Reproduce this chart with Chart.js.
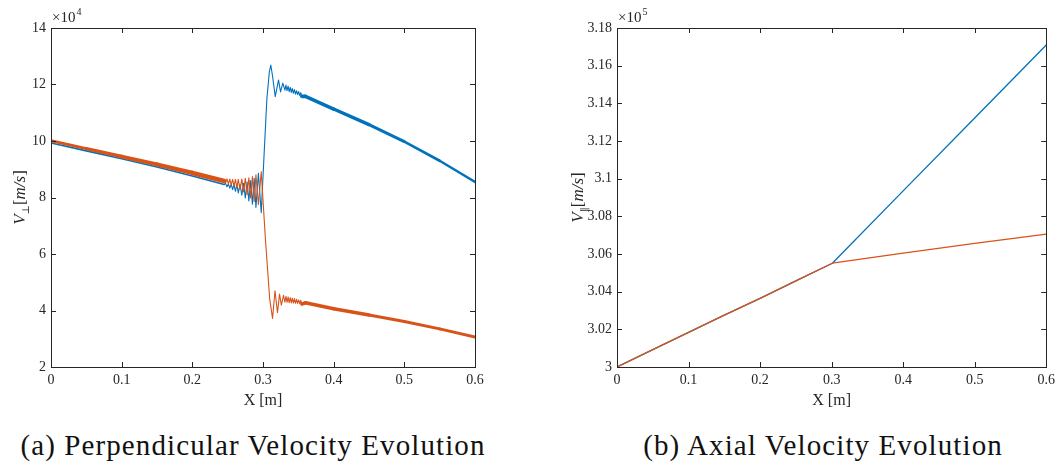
<!DOCTYPE html>
<html>
<head>
<meta charset="utf-8">
<script src="https://cdn.jsdelivr.net/npm/chart.js@4.4.1/dist/chart.umd.min.js"></script>
<style>
  html, body { margin: 0; padding: 0; background: #fff; }
  body { width: 1060px; height: 462px; position: relative; overflow: hidden; }
  .caixa { position: absolute; top: 0; width: 530px; height: 410px; }
  .legenda { position: absolute; top: 431px; font-family: "Liberation Serif", "Times New Roman", serif; font-size: 29px; line-height: 29px; letter-spacing: 1.1px; color: #111; white-space: nowrap; transform: translateX(-50%); }
</style>
</head>
<body>
<div class="caixa" style="left:0"><canvas id="graficoPerp"></canvas></div>
<div class="caixa" style="left:530px"><canvas id="graficoAxial"></canvas></div>
<div class="legenda" style="left:253px">(a) Perpendicular Velocity Evolution</div>
<div class="legenda" style="left:823px">(b) Axial Velocity Evolution</div>
<script>
// Eixos
const ticksX = [0, 0.1, 0.2, 0.3, 0.4, 0.5, 0.6];
const rotulosX = ['0', '0.1', '0.2', '0.3', '0.4', '0.5', '0.6'];
const ticksPerp = [2, 4, 6, 8, 10, 12, 14];
const rotulosPerp = ['2', '4', '6', '8', '10', '12', '14'];
const ticksAxial = [3, 3.02, 3.04, 3.06, 3.08, 3.1, 3.12, 3.14, 3.16, 3.18];
const rotulosAxial = ['3', '3.02', '3.04', '3.06', '3.08', '3.1', '3.12', '3.14', '3.16', '3.18'];

// Velocidade perpendicular (x10^4 m/s) - serie azul
const xPerpAzul = [0, 0.05, 0.1, 0.15, 0.2, 0.245,
  0.247, 0.249, 0.251, 0.253, 0.255, 0.257, 0.259, 0.261, 0.263, 0.265, 0.2675, 0.27, 0.2725, 0.275,
  0.2775, 0.28, 0.2825, 0.285, 0.2875, 0.29, 0.2935, 0.2975,
  0.3015, 0.3055, 0.309, 0.311, 0.3135, 0.3173, 0.322, 0.3248, 0.328, 0.331,
  0.3325, 0.334, 0.3355, 0.337, 0.3385, 0.34, 0.3415, 0.343, 0.3445, 0.346,
  0.3475, 0.349, 0.3505, 0.352, 0.3535, 0.355,
  0.36, 0.4, 0.45, 0.5, 0.55, 0.6];
const vPerpAzul = [9.93, 9.65, 9.37, 9.08, 8.76, 8.46,
  8.50, 8.38, 8.48, 8.33, 8.47, 8.28, 8.46, 8.22, 8.46, 8.16, 8.47, 8.08, 8.50, 7.98,
  8.55, 7.88, 8.60, 7.76, 8.68, 7.65, 8.86, 7.46,
  9.50, 11.50, 12.45, 12.69, 12.30, 11.57, 12.16, 11.74, 12.05, 11.80,
  11.98, 11.78, 11.94, 11.745, 11.90, 11.72, 11.86, 11.69, 11.82, 11.66,
  11.78, 11.64, 11.75, 11.61, 11.71, 11.58,
  11.58, 11.13, 10.58, 9.98, 9.30, 8.55];

// Velocidade perpendicular (x10^4 m/s) - serie laranja
const xPerpLaranja = [0, 0.05, 0.1, 0.15, 0.2, 0.245,
  0.247, 0.249, 0.251, 0.253, 0.255, 0.257, 0.259, 0.261, 0.263, 0.265, 0.2675, 0.27, 0.2725, 0.275,
  0.2775, 0.28, 0.2825, 0.285, 0.2875, 0.29, 0.2935, 0.2975,
  0.3035, 0.3095, 0.3135, 0.317, 0.3205, 0.3234, 0.326, 0.329, 0.331,
  0.3325, 0.334, 0.3355, 0.337, 0.3385, 0.34, 0.3415, 0.343, 0.3445, 0.346,
  0.3475, 0.349, 0.3505, 0.352, 0.3535, 0.355,
  0.36, 0.4, 0.45, 0.5, 0.55, 0.6];
const vPerpLaranja = [10.01, 9.73, 9.45, 9.17, 8.87, 8.58,
  8.52, 8.66, 8.48, 8.65, 8.44, 8.64, 8.40, 8.64, 8.35, 8.64, 8.28, 8.65, 8.20, 8.68,
  8.10, 8.70, 7.98, 8.74, 7.85, 8.80, 7.75, 8.91,
  6.50, 4.40, 3.72, 4.70, 3.92, 4.58, 4.19, 4.54, 4.30,
  4.50, 4.29, 4.48, 4.275, 4.455, 4.27, 4.435, 4.265, 4.42, 4.255,
  4.395, 4.25, 4.375, 4.24, 4.36, 4.23,
  4.27, 4.06, 3.84, 3.61, 3.35, 3.06];

// Velocidade axial (x10^5 m/s)
const xAxial = [0, 0.05, 0.1, 0.15, 0.2, 0.25, 0.301, 0.4, 0.5, 0.6];
const vAxialAzul = [3.0, 3.0092, 3.0184, 3.0275, 3.0364, 3.0457, 3.0551, 3.0935, 3.1322, 3.171];
const vAxialLaranja = [3.0, 3.0092, 3.0184, 3.0275, 3.0364, 3.0457, 3.0551, 3.0605, 3.0656, 3.0706];

const AZUL = '#0072BD';
const LARANJA = '#D95319';
const COR_EIXO = '#262626';
const FONTE = '"Liberation Serif", "Times New Roman", serif';

function pontos(xs, ys) {
  return xs.map((x, i) => ({ x: x, y: ys[i] }));
}

function larguraAzul(x) {
  if (x < 0.245) return 1.6;
  if (x < 0.355) return 1.1;
  return 3.6 - 1.6 * (x - 0.355) / 0.245;
}

function larguraLaranja(x) {
  if (x < 0.245) return 3 + 2 * x / 0.245;
  if (x < 0.355) return 1.1;
  return 3.6 - 1.0 * (x - 0.355) / 0.245;
}

// Moldura, marcas internas, titulos e expoente
const molduraEixos = {
  id: 'molduraEixos',
  afterDraw(chart, args, opts) {
    const ctx = chart.ctx;
    const a = chart.chartArea;
    const sx = chart.scales.x;
    const sy = chart.scales.y;
    ctx.save();
    ctx.strokeStyle = COR_EIXO;
    ctx.lineWidth = 1;
    ctx.strokeRect(Math.round(a.left) + 0.5, Math.round(a.top) + 0.5,
      Math.round(a.right - a.left), Math.round(a.bottom - a.top));
    ctx.beginPath();
    opts.ticksX.forEach(v => {
      const p = Math.round(sx.getPixelForValue(v)) + 0.5;
      ctx.moveTo(p, a.bottom); ctx.lineTo(p, a.bottom - 5);
      ctx.moveTo(p, a.top); ctx.lineTo(p, a.top + 5);
    });
    opts.ticksY.forEach(v => {
      const p = Math.round(sy.getPixelForValue(v)) + 0.5;
      ctx.moveTo(a.left, p); ctx.lineTo(a.left + 5, p);
      ctx.moveTo(a.right, p); ctx.lineTo(a.right - 5, p);
    });
    ctx.stroke();

    // expoente
    ctx.fillStyle = COR_EIXO;
    ctx.textBaseline = 'alphabetic';
    ctx.textAlign = 'left';
    ctx.font = '15px ' + FONTE;
    const base = '\u00d710';
    ctx.fillText(base, a.left + 1, a.top - 6);
    const w = ctx.measureText(base).width;
    ctx.font = '10px ' + FONTE;
    ctx.fillText(opts.expoente, a.left + 1 + w + 1, a.top - 13);

    // titulo X
    ctx.font = '16px ' + FONTE;
    ctx.textAlign = 'center';
    ctx.fillText('X [m]', (a.left + a.right) / 2, 405);

    // titulo Y
    const partes = [
      { t: 'V', f: 'italic 17px ' + FONTE, dy: 0 },
      { t: opts.sub, f: '10px "DejaVu Serif", "DejaVu Sans", serif', dy: 4 },
      { t: '[', f: '17px ' + FONTE, dy: 0 },
      { t: 'm/s', f: 'italic 17px ' + FONTE, dy: 0 },
      { t: ']', f: '17px ' + FONTE, dy: 0 }
    ];
    let total = 0;
    partes.forEach(p => { ctx.font = p.f; p.w = ctx.measureText(p.t).width; total += p.w; });
    ctx.translate(opts.tituloYx, (a.top + a.bottom) / 2);
    ctx.rotate(-Math.PI / 2);
    ctx.textAlign = 'left';
    let cx = -total / 2;
    partes.forEach(p => { ctx.font = p.f; ctx.fillText(p.t, cx, p.dy); cx += p.w; });
    ctx.restore();
  }
};

function escalas(ticksY, rotulosY, minY, maxY, larguraY) {
  return {
    x: {
      type: 'linear', min: 0, max: 0.6,
      afterBuildTicks: s => { s.ticks = ticksX.map(v => ({ value: v })); },
      afterFit: s => { s.height = 43; },
      grid: { display: false, drawTicks: false },
      border: { display: false },
      ticks: {
        color: COR_EIXO, font: { family: FONTE, size: 14 }, padding: 5,
        maxRotation: 0, autoSkip: false,
        callback: (v, i) => rotulosX[i]
      }
    },
    y: {
      type: 'linear', min: minY, max: maxY,
      afterBuildTicks: s => { s.ticks = ticksY.map(v => ({ value: v })); },
      afterFit: s => { s.width = larguraY; },
      grid: { display: false, drawTicks: false },
      border: { display: false },
      ticks: {
        color: COR_EIXO, font: { family: FONTE, size: 14 }, padding: 5,
        autoSkip: false,
        callback: (v, i) => rotulosY[i]
      }
    }
  };
}

const opcoesComuns = {
  responsive: true,
  maintainAspectRatio: false,
  animation: false,
  events: [],
  elements: { point: { radius: 0 }, line: { tension: 0, borderJoinStyle: 'round', borderCapStyle: 'round' } }
};

new Chart(document.getElementById('graficoPerp').getContext('2d'), {
  type: 'line',
  data: {
    datasets: [{
      data: pontos(xPerpLaranja, vPerpLaranja),
      borderColor: LARANJA,
      borderWidth: 1.1,
      segment: { borderWidth: c => larguraLaranja(c.p0.parsed.x) }
    }, {
      data: pontos(xPerpAzul, vPerpAzul),
      borderColor: AZUL,
      borderWidth: 1.1,
      segment: { borderWidth: c => larguraAzul(c.p0.parsed.x) }
    }]
  },
  options: {
    ...opcoesComuns,
    layout: { padding: { top: 28, right: 55, left: 0, bottom: 0 } },
    scales: escalas(ticksPerp, rotulosPerp, 2, 14, 51),
    plugins: {
      legend: { display: false },
      tooltip: { enabled: false },
      molduraEixos: { ticksX: ticksX, ticksY: ticksPerp, expoente: '4', sub: '\u22a5', tituloYx: 25 }
    }
  },
  plugins: [molduraEixos]
});

new Chart(document.getElementById('graficoAxial').getContext('2d'), {
  type: 'line',
  data: {
    datasets: [{
      data: pontos(xAxial, vAxialLaranja),
      borderColor: LARANJA,
      borderWidth: 1.3
    }, {
      data: pontos(xAxial, vAxialAzul),
      borderColor: AZUL,
      borderWidth: 1.3
    }]
  },
  options: {
    ...opcoesComuns,
    layout: { padding: { top: 28, right: 12, left: 0, bottom: 0 } },
    scales: escalas(ticksAxial, rotulosAxial, 3, 3.18, 87),
    plugins: {
      legend: { display: false },
      tooltip: { enabled: false },
      molduraEixos: { ticksX: ticksX, ticksY: ticksAxial, expoente: '5', sub: '\u2016', tituloYx: 53 }
    }
  },
  plugins: [molduraEixos]
});
</script>
</body>
</html>
